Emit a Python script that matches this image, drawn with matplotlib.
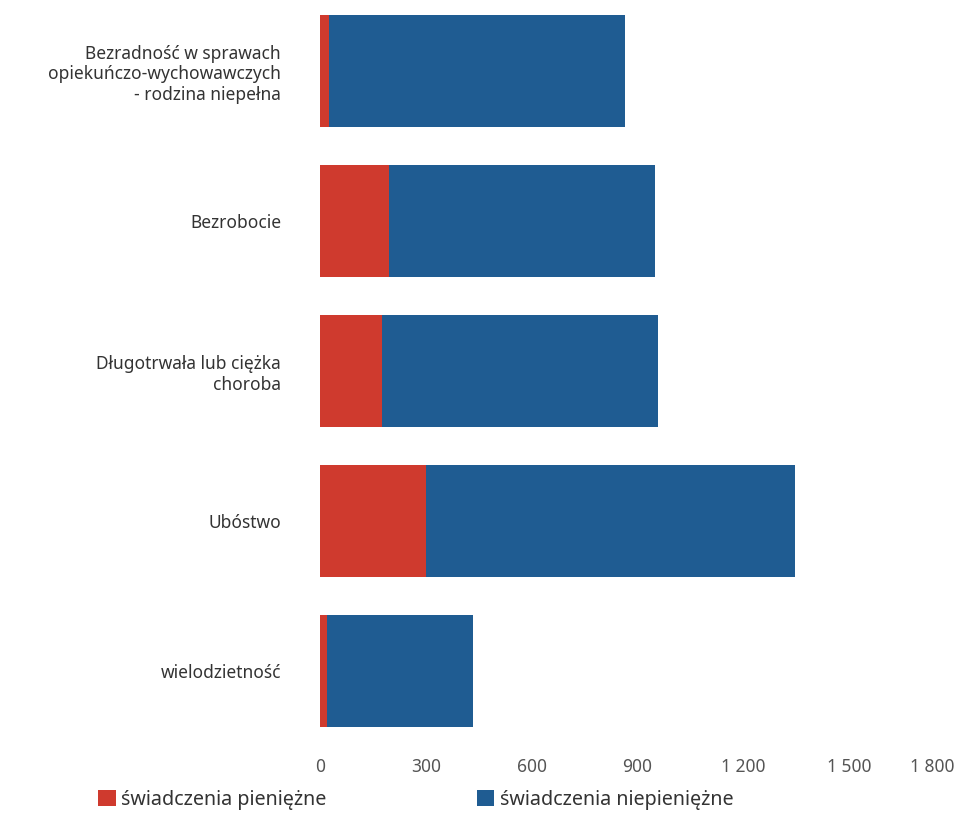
import matplotlib
matplotlib.use('Agg')
import matplotlib.pyplot as plt
import numpy as np

# Kategorie (od góry) i wartości
kategorie = [
    'Bezradność w sprawach\nopiekuńczo-wychowawczych\n- rodzina niepełna',
    'Bezrobocie',
    'Długotrwała lub ciężka\nchoroba',
    'Ubóstwo',
    'wielodzietność',
]
pieniezne = [25, 197, 176, 300, 19]
niepieniezne = [840, 752, 783, 1046, 416]
ticki = [0, 300, 600, 900, 1200, 1500, 1800]
etykiety_tickow = ['0', '300', '600', '900', '1 200', '1 500', '1 800']

czerwony = '#cf3a2e'
niebieski = '#1f5c92'

plt.rcParams['font.family'] = ['Noto Sans', 'DejaVu Sans']

fig = plt.figure(figsize=(9.56, 8.26), dpi=100)
ax = fig.add_axes([320 / 956, 80 / 826, 635 / 956, 746 / 826])

y = np.arange(len(kategorie))
ax.barh(y, pieniezne, height=0.75, color=czerwony, label='świadczenia pieniężne')
ax.barh(y, niepieniezne, left=pieniezne, height=0.75, color=niebieski,
        label='świadczenia niepieniężne')

ax.set_xlim(0, 1800)
ax.set_ylim(4.5, -0.473)
ax.set_yticks(y)
ax.set_yticklabels(kategorie, fontsize=12.5, color='#333333')
ax.set_xticks(ticki)
ax.set_xticklabels(etykiety_tickow, fontsize=12.5, color='#555555')
ax.get_xticklabels()[-1].set_horizontalalignment('right')
ax.tick_params(axis='y', length=0, pad=28)
ax.tick_params(axis='x', length=0, pad=9)
for s in ax.spines.values():
    s.set_visible(False)

fig.legend(loc='center left', bbox_to_anchor=(80 / 956, 1 - 800 / 826), ncol=2,
           frameon=False, fontsize=14.2, handlelength=0.9, handleheight=0.9,
           handletextpad=0.3, columnspacing=7.6, labelcolor='#333333')

fig.savefig('out.png', dpi=100)
